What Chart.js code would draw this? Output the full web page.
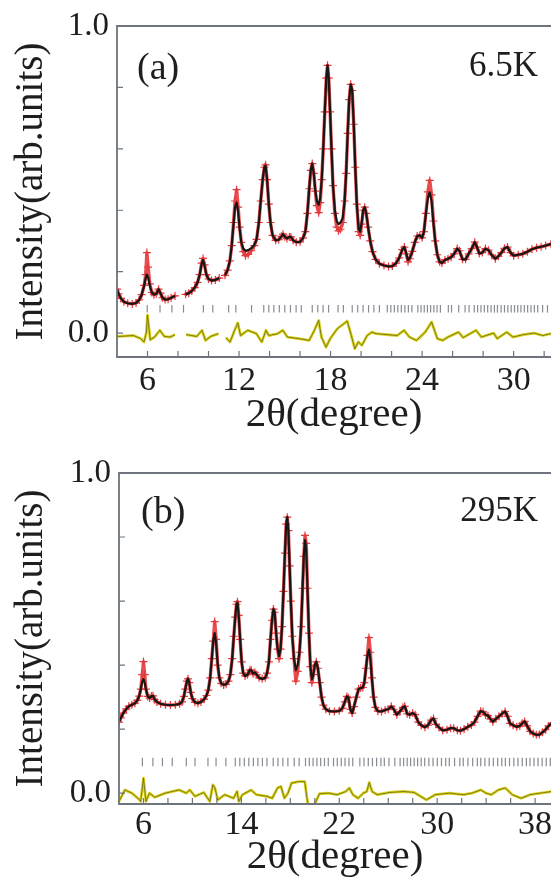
<!DOCTYPE html>
<html><head><meta charset="utf-8">
<script src="https://cdn.jsdelivr.net/npm/chart.js@4.4.1/dist/chart.umd.min.js"></script>
<style>
html,body{margin:0;padding:0;background:#fff;overflow:hidden;width:551px;height:882px;}
#wrap{position:relative;width:551px;height:882px;overflow:hidden;background:#fff;}
.pane{position:absolute;left:0;width:640px;}
#pa{top:0;height:440px;}
#pb{top:440px;height:442px;}
canvas{display:block;}
</style></head><body>
<div id="wrap">
<div class="pane" id="pa"><canvas id="ca" width="640" height="440"></canvas></div>
<div class="pane" id="pb"><canvas id="cb" width="640" height="442"></canvas></div>
</div>
<script>
// ---------- Panel (a) 6.5K ----------
const thetaA = [
4.0,4.1,4.25,4.45,4.7,5.0,5.25,5.45,5.62,5.78,
5.88,5.96,6.04,6.15,6.28,6.42,6.58,6.72,6.85,6.98,
7.15,7.35,7.55,7.8,8.15,8.5,8.7,8.9,9.1,9.28,
9.42,9.55,9.64,9.74,9.86,10.0,10.2,10.45,10.7,10.9,
11.08,11.25,11.4,11.52,11.64,11.74,11.84,11.94,12.04,12.15,
12.28,12.42,12.6,12.8,13.0,13.15,13.3,13.42,13.55,13.66,
13.74,13.84,13.95,14.06,14.2,14.4,14.6,14.78,14.88,15.0,
15.14,15.3,15.4,15.55,15.75,16.0,16.2,16.35,16.48,16.6,
16.7,16.8,16.9,17.0,17.1,17.22,17.32,17.42,17.52,17.62,
17.72,17.8,17.88,17.97,18.06,18.16,18.28,18.4,18.52,18.65,
18.8,18.92,19.02,19.12,19.22,19.32,19.42,19.52,19.62,19.72,
19.84,19.94,20.04,20.14,20.24,20.34,20.46,20.6,20.75,20.95,
21.2,21.5,21.8,22.05,22.3,22.5,22.7,22.84,22.96,23.08,
23.2,23.36,23.52,23.68,23.85,24.0,24.12,24.25,24.38,24.5,
24.62,24.74,24.86,25.0,25.15,25.3,25.5,25.7,25.9,26.1,
26.3,26.45,26.65,26.85,27.05,27.25,27.45,27.6,27.75,27.95,
28.15,28.35,28.55,28.8,29.0,29.2,29.4,29.6,29.8,30.0,
30.3,30.6,30.9,31.2,31.5,31.8,32.1,32.45];
const calcA = [
.143,.128,.113,.102,.097,.095,.098,.108,.125,.155,
.178,.19,.182,.155,.132,.125,.128,.143,.13,.115,
.109,.11,.115,.121,null,.126,.13,.137,.148,.165,
.19,.225,.238,.22,.19,.176,.171,.173,.179,null,
.188,.205,.235,.285,.355,.41,.425,.395,.34,.295,
.275,.268,.27,.276,.287,.305,.36,.43,.5,.54,
.545,.5,.42,.36,.318,.302,.304,.315,.322,.314,
.308,.313,.313,.302,.296,.297,.31,.33,.39,.47,
.53,.552,.52,.465,.43,.418,.44,.5,.6,.72,
.83,.872,.83,.72,.6,.48,.4,.365,.355,.36,
.375,.43,.52,.65,.76,.81,.79,.68,.54,.42,
.34,.33,.36,.4,.41,.39,.345,.3,.265,.24,
.226,.22,.217,.218,.228,.245,.272,.28,.26,.238,
.245,.266,.295,.316,.318,.31,.33,.39,.44,.458,
.43,.36,.3,.255,.232,.228,.238,.242,.247,.258,
.275,.268,.24,.24,.258,.275,.296,.28,.259,.262,
.275,.27,.255,.242,.25,.262,.276,.28,.262,.252,
.255,.258,.265,.273,.278,.281,.285,.29];
const obsA = [
.143,.128,.113,.102,.097,.095,.098,.108,.125,.155,
.19,.262,.215,.16,.132,.125,.128,.143,.13,.115,
.109,.11,.115,.121,null,.126,.13,.137,.148,.165,
.19,.228,.243,.222,.19,.176,.171,.173,.179,null,
.188,.205,.235,.285,.36,.43,.467,.41,.345,.295,
.265,.252,.256,.268,.285,.305,.36,.43,.5,.54,
.548,.5,.42,.36,.318,.302,.304,.315,.322,.314,
.308,.313,.313,.302,.296,.297,.31,.33,.39,.47,
.53,.552,.52,.462,.415,.392,.425,.5,.6,.72,
.83,.872,.83,.72,.6,.48,.39,.345,.333,.338,
.36,.43,.52,.65,.76,.81,.79,.68,.54,.42,
.33,.318,.355,.4,.41,.39,.345,.3,.265,.24,
.226,.22,.217,.218,.228,.245,.272,.28,.258,.232,
.242,.266,.295,.316,.318,.31,.33,.39,.46,.497,
.45,.365,.3,.255,.232,.228,.238,.242,.247,.258,
.275,.268,.24,.24,.258,.275,.296,.28,.259,.262,
.275,.27,.255,.242,.25,.262,.276,.28,.262,.252,
.255,.258,.265,.273,.278,.281,.285,.29];
const diffThetaA = [
4.0,4.16,5.08,5.54,5.77,5.92,6.0,6.18,6.46,6.81,
7.1,7.5,7.8,8.15,8.53,9.23,9.57,9.8,10.15,10.65,
10.9,11.14,11.41,11.71,11.92,12.1,12.57,13.14,13.49,13.77,
13.95,14.53,14.87,15.17,15.9,16.6,16.94,17.22,17.4,17.7,
17.98,18.44,19.09,19.36,19.59,19.82,20.05,20.4,20.7,20.98,
22.36,22.82,23.17,23.63,24.2,24.62,25.0,25.35,25.7,26.39,
26.69,27.54,27.89,28.69,28.92,29.55,29.96,30.65,31.35,31.9,
32.45];
const diffA = [
-0.011,-0.011,-0.008,-0.018,-0.029,0.0,0.058,-0.022,-0.013,0.009,
-0.011,-0.013,-0.005,null,-0.005,-0.011,0.009,-0.024,-0.011,-0.002,
null,-0.015,-0.029,0.009,0.033,-0.008,0.009,-0.002,-0.029,0.009,
-0.008,-0.002,0.009,-0.013,-0.018,-0.024,0.009,0.041,-0.013,-0.046,
-0.018,0.014,0.039,-0.008,-0.051,-0.029,-0.04,-0.008,0.003,-0.002,
-0.008,0.009,-0.013,-0.024,0.003,0.036,-0.018,-0.024,-0.013,0.003,
-0.015,0.009,-0.013,0.0,-0.018,0.003,-0.013,-0.005,0.0,-0.008,
-0.002];
const braggA = [
5.98,6.82,7.6,8.36,9.66,10.28,11.32,11.79,12.82,
13.62,13.95,14.28,14.64,15.0,15.37,15.74,16.08,
16.8,17.16,17.51,17.87,18.49,18.84,
19.42,19.78,20.13,20.49,20.84,21.2,
21.72,21.95,22.18,22.41,22.64,22.87,23.1,23.33,
23.72,23.93,24.14,24.35,24.56,24.77,24.98,25.2,
25.72,25.93,26.4,26.82,27.08,
27.42,27.64,27.86,28.08,28.3,28.52,28.74,28.94,
29.18,29.4,29.62,29.84,30.06,30.27,30.48,
30.7,30.92,31.14,31.36,31.58,31.9,32.22];
const xTicksA = [4,6,8,10,12,14,16,18,20,22,24,26,28,30,32];
const xLabelsA = [6,12,18,24,30];

// ---------- Panel (b) 295K ----------
const thetaB = [
4.0,4.15,4.35,4.6,4.8,5.05,5.3,5.5,5.65,5.78,
5.9,6.0,6.1,6.2,6.35,6.5,6.65,6.78,6.92,7.1,
7.4,7.8,8.2,8.6,8.95,9.15,9.3,9.42,9.55,9.64,
9.74,9.86,10.0,10.2,10.45,10.7,10.95,11.15,11.3,11.45,
11.58,11.7,11.82,11.94,12.06,12.2,12.35,12.55,12.75,12.95,
13.1,13.25,13.38,13.5,13.6,13.68,13.78,13.9,14.02,14.15,
14.3,14.5,14.7,14.82,14.95,15.1,15.25,15.45,15.7,15.95,
16.1,16.25,16.38,16.5,16.62,16.72,16.84,16.96,17.08,17.2,
17.32,17.44,17.56,17.66,17.75,17.84,17.94,18.04,18.16,18.3,
18.45,18.6,18.75,18.88,19.0,19.1,19.2,19.3,19.4,19.52,
19.64,19.76,19.88,20.0,20.12,20.25,20.4,20.55,20.7,20.9,
21.2,21.6,22.0,22.25,22.45,22.62,22.75,22.9,23.05,23.2,
23.4,23.58,23.75,23.92,24.05,24.18,24.3,24.42,24.54,24.66,
24.8,24.95,25.15,25.45,25.75,26.0,26.25,26.45,26.7,26.95,
27.2,27.35,27.55,27.75,28.0,28.2,28.45,28.7,29.0,29.25,
29.5,29.7,29.9,30.15,30.45,30.8,31.1,31.35,31.65,31.9,
32.2,32.5,32.8,33.05,33.3,33.55,33.75,33.95,34.15,34.35,
34.55,34.8,35.05,35.3,35.55,35.75,35.95,36.2,36.5,36.75,
36.95,37.15,37.35,37.6,37.85,38.1,38.35,38.6,38.85,39.1,
39.35];
const calcB = [
.222,.235,.25,.263,.271,.276,.281,.29,.303,.325,
.348,.356,.345,.325,.302,.297,.303,.304,.292,.285,
.279,.276,.275,.276,.279,.285,.302,.325,.35,.357,
.345,.315,.295,.284,.281,.285,.293,.305,.322,.36,
.42,.475,.5,.465,.405,.36,.343,.338,.34,.35,
.37,.42,.49,.55,.59,.595,.555,.48,.41,.375,
.366,.37,.385,.383,.373,.377,.37,.36,.357,.36,
.375,.41,.48,.54,.575,.565,.5,.45,.428,.45,
.52,.63,.75,.84,.862,.82,.71,.6,.49,.42,
.385,.4,.44,.52,.64,.74,.79,.76,.64,.5,
.395,.355,.37,.4,.41,.39,.345,.3,.275,.262,
.256,.255,.257,.265,.285,.302,.298,.262,.25,.27,
.3,.325,.328,.33,.345,.39,.43,.448,.42,.36,
.3,.268,.256,.255,.26,.262,.271,.262,.245,.255,
.268,.271,.248,.245,.25,.245,.222,.212,.206,.212,
.228,.233,.215,.205,.196,.198,.203,.203,.196,.195,
.2,.207,.213,.222,.24,.256,.254,.245,.242,.232,
.223,.232,.24,.248,.255,.24,.218,.212,.207,.21,
.218,.224,.21,.193,.186,.182,.183,.19,.198,.21,
.218];
const obsB = [
.222,.235,.25,.263,.271,.276,.281,.29,.303,.325,
.37,.411,.37,.325,.302,.297,.303,.304,.292,.285,
.279,.276,.275,.276,.279,.285,.302,.325,.35,.357,
.345,.315,.295,.284,.281,.285,.293,.305,.322,.36,
.42,.475,.536,.48,.4,.36,.343,.338,.34,.35,
.37,.42,.49,.55,.59,.598,.555,.48,.41,.375,
.366,.37,.385,.383,.373,.377,.37,.36,.357,.36,
.375,.41,.48,.54,.575,.565,.5,.45,.42,.45,
.52,.63,.75,.84,.862,.82,.71,.6,.49,.42,
.35,.38,.44,.52,.64,.74,.805,.78,.64,.5,
.395,.345,.37,.4,.41,.39,.345,.3,.275,.262,
.256,.255,.257,.265,.285,.302,.298,.262,.25,.27,
.3,.325,.328,.33,.345,.39,.43,.486,.44,.36,
.3,.268,.256,.255,.26,.262,.271,.262,.245,.255,
.268,.271,.248,.245,.25,.245,.222,.212,.206,.212,
.228,.233,.215,.205,.196,.198,.203,.203,.196,.195,
.2,.207,.213,.222,.24,.256,.254,.245,.242,.232,
.223,.232,.24,.248,.255,.24,.218,.212,.207,.21,
.218,.224,.21,.193,.186,.182,.183,.19,.198,.21,
.218];
const diffThetaB = [
4.0,4.48,5.05,5.63,5.77,6.0,6.2,6.49,6.92,7.78,
8.92,9.5,9.78,10.21,10.93,11.42,11.67,11.84,12.07,12.65,
13.36,13.65,13.79,14.08,14.8,15.23,16.09,16.52,16.95,17.23,
17.52,17.81,18.09,18.66,19.18,19.38,19.5,19.81,20.1,20.38,
21.1,21.82,22.53,22.82,23.11,23.54,23.97,24.25,24.45,24.68,
25.11,26.12,27.26,28.12,29.12,29.84,30.99,32.13,32.85,33.56,
33.99,34.42,35.0,35.57,36.14,36.86,37.58,38.44,39.35];
const diffB = [
-0.026,0.01,0.0,-0.019,-0.026,0.047,-0.026,0.0,-0.013,0.0,
0.01,0.0,0.01,-0.01,0.002,-0.026,0.026,0.016,-0.021,-0.005,
-0.016,0.005,-0.026,-0.005,0.01,-0.005,-0.01,-0.016,0.016,0.021,
-0.016,0.0,0.031,0.036,0.036,-0.021,-0.045,-0.045,-0.026,-0.002,
0.0,-0.005,0.005,0.016,-0.005,-0.016,0.0,0.005,0.033,0.005,
-0.005,0.002,0.005,0.002,-0.021,-0.005,0.0,-0.005,0.0,0.01,
0.0,-0.005,0.01,0.016,-0.005,-0.016,-0.005,0.0,0.005];
const braggB = [
5.91,6.77,7.55,8.35,9.5,10.21,11.27,11.93,12.73,
13.5,13.87,14.24,14.61,14.98,15.35,15.72,16.09,
16.6,16.99,17.39,17.8,18.32,18.72,
19.24,19.55,19.86,20.17,20.48,20.79,21.1,
21.53,21.84,22.16,22.47,22.79,23.1,
23.68,24.02,24.37,24.71,25.05,25.4,
25.68,26.06,26.54,26.97,
27.26,27.55,27.83,28.12,28.4,28.69,
28.98,29.32,29.66,30.01,30.35,30.7,
30.99,31.42,31.85,32.13,32.51,32.9,33.28,
33.56,33.9,34.25,34.59,34.94,35.28,
35.57,35.91,36.26,36.6,36.95,37.29,
37.58,37.91,38.24,38.58,38.91,39.24];
const xTicksB = [4,6,8,10,12,14,16,18,20,22,24,26,28,30,32,34,36,38];
const xLabelsB = [6,14,22,30,38];

const yTicks = [0, 0.2, 0.4, 0.6, 0.8, 1.0];
const yLabels = [0, 1.0];

// ---------- drawing ----------
const FONT = "'Liberation Serif', 'DejaVu Serif', serif";
const TXT = '#1e1e1e';
const FRAME = '#6e747d';

const framePlugin = {
  id: 'frame',
  afterDraw(chart, args, opts) {
    const {ctx, chartArea: a, scales} = chart;
    ctx.save();
    ctx.strokeStyle = FRAME;
    ctx.lineWidth = 1.8;
    ctx.beginPath();
    ctx.moveTo(a.right + 2, a.top); ctx.lineTo(a.left, a.top);
    ctx.lineTo(a.left, a.bottom); ctx.lineTo(a.right + 2, a.bottom);
    ctx.stroke();
    ctx.lineWidth = 1.2;
    ctx.beginPath();
    scales.x.ticks.forEach(t => {
      const px = scales.x.getPixelForValue(t.value);
      if (px <= a.left + 1 || px >= a.right) return;
      ctx.moveTo(px, a.bottom); ctx.lineTo(px, a.bottom - 6);
    });
    scales.y.ticks.forEach(t => {
      const py = scales.y.getPixelForValue(t.value);
      if (py <= a.top + 1 || py >= a.bottom) return;
      ctx.moveTo(a.left, py); ctx.lineTo(a.left + 6, py);
    });
    ctx.stroke();
    // panel captions
    ctx.fillStyle = TXT;
    ctx.textBaseline = 'middle';
    ctx.font = opts.tagSize + 'px ' + FONT;
    ctx.textAlign = 'left';
    ctx.fillText(opts.tag, opts.tagX, opts.tagY);
    ctx.font = opts.tempSize + 'px ' + FONT;
    ctx.textAlign = 'right';
    ctx.fillText(opts.temp, opts.tempX, opts.tempY);
    ctx.restore();
  }
};

function pts(xs, ys) { return xs.map((x, i) => ({x: x, y: ys[i]})); }

function buildPanel(id, p) {
  new Chart(document.getElementById(id), {
    type: 'line',
    data: { datasets: [
      { label: 'calc', data: pts(p.theta, p.calc), borderColor: '#161616', borderWidth: 2.2,
        borderJoinStyle: 'round', pointRadius: 0, tension: 0, spanGaps: false },
      { label: 'obs', data: pts(p.theta, p.obs), borderColor: '#ea4d4f', borderWidth: 3.4,
        borderJoinStyle: 'round', borderCapStyle: 'round',
        pointStyle: 'cross', pointRadius: 4, pointBorderColor: '#e33a3c', pointBorderWidth: 1.2,
        tension: 0, spanGaps: false },
      { label: 'diffCore', data: pts(p.dTheta, p.diff), borderColor: '#5d5812', borderWidth: 0.7,
        pointRadius: 0, tension: 0, spanGaps: false },
      { label: 'diff', data: pts(p.dTheta, p.diff), borderColor: '#d8d21c', borderWidth: 2.8,
        borderJoinStyle: 'round', pointRadius: 0, tension: 0, spanGaps: false },
      { label: 'bragg', type: 'scatter', data: p.bragg.map(x => ({x: x, y: p.braggLevel})),
        showLine: false, pointStyle: 'line', pointRotation: 90, pointRadius: p.braggR,
        pointBorderColor: '#878b93', pointBorderWidth: 1.2, borderColor: '#878b93' }
    ]},
    options: {
      responsive: false, animation: false, events: [],
      layout: { padding: { top: p.top, right: 640 - 551, left: 0, bottom: 0 } },
      plugins: { legend: { display: false }, tooltip: { enabled: false },
        frame: { tag: p.tag, tagX: p.tagX, tagY: p.tagY, tagSize: p.tagSize,
                 temp: p.temp, tempX: p.tempX, tempY: p.tempY, tempSize: p.tempSize } },
      scales: {
        x: {
          type: 'linear', min: 4, max: p.xMax,
          afterBuildTicks: s => { s.ticks = p.xTicks.map(v => ({value: v})); },
          afterFit: s => { s.height = p.xAxisH; s.paddingLeft = 0; s.paddingRight = 0; },
          grid: { display: false, drawTicks: false }, border: { display: false },
          ticks: { autoSkip: false, maxRotation: 0, minRotation: 0, padding: p.xTickPad, color: TXT,
                   font: { family: FONT, size: 34 },
                   callback: v => (p.xLabels.indexOf(v) >= 0 ? String(v) : '') },
          title: { display: true, text: '2θ(degree)', color: TXT,
                   font: { family: FONT, size: 41, lineHeight: 1 }, padding: { top: 0, bottom: 4 } }
        },
        y: {
          type: 'linear', min: p.yMin, max: 1.0,
          afterBuildTicks: s => { s.ticks = yTicks.map(v => ({value: v})); },
          afterFit: s => { s.width = p.yAxisW; s.paddingTop = 0; s.paddingBottom = 0; },
          grid: { display: false, drawTicks: false }, border: { display: false },
          ticks: { padding: 8, color: TXT, font: { family: FONT, size: 33 },
                   callback: v => (yLabels.indexOf(v) >= 0 ? v.toFixed(1) : '') },
          title: { display: true, text: 'Intensity(arb.units)', color: TXT,
                   font: { family: FONT, size: 39, lineHeight: 1 }, padding: { top: 12, bottom: 0 } }
        }
      }
    },
    plugins: [framePlugin]
  });
}

buildPanel('ca', {
  theta: thetaA, calc: calcA, obs: obsA, dTheta: diffThetaA, diff: diffA, bragg: braggA,
  braggLevel: 0.079, braggR: 3.8, xTicks: xTicksA, xLabels: xLabelsA,
  xMax: 32.45, yMin: -0.078, top: 26, xAxisH: 83, yAxisW: 117, xTickPad: 4,
  tag: '(a)', tagX: 137, tagY: 69, tagSize: 38, temp: '6.5K', tempX: 538, tempY: 67, tempSize: 35
});
buildPanel('cb', {
  theta: thetaB, calc: calcB, obs: obsB, dTheta: diffThetaB, diff: diffB, bragg: braggB,
  braggLevel: 0.097, braggR: 4.2, xTicks: xTicksB, xLabels: xLabelsB,
  xMax: 39.3, yMin: -0.034, top: 33, xAxisH: 78, yAxisW: 119, xTickPad: 1,
  tag: '(b)', tagX: 141, tagY: 73, tagSize: 38, temp: '295K', tempX: 538, tempY: 72, tempSize: 35
});
</script>
</body></html>
